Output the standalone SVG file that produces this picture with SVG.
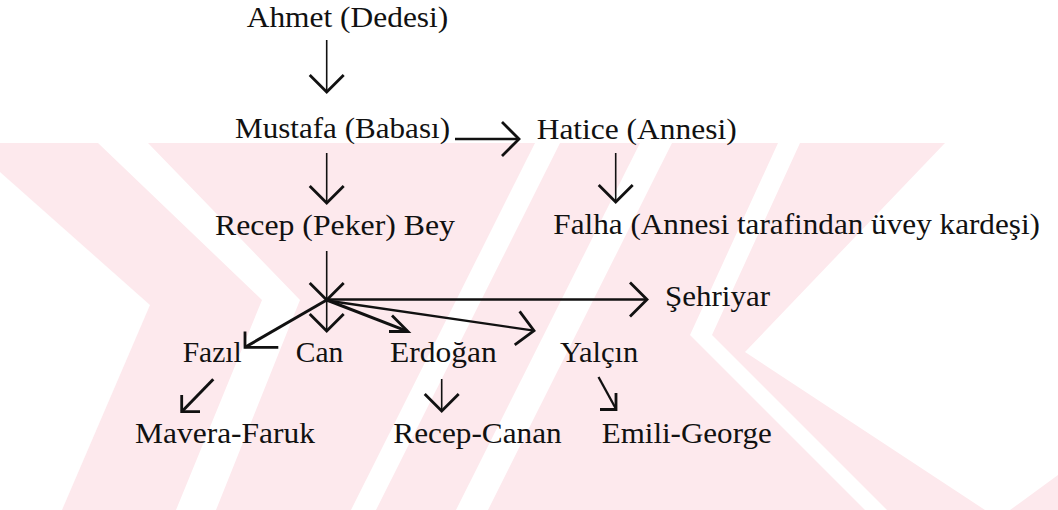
<svg xmlns="http://www.w3.org/2000/svg" width="1058" height="510" viewBox="0 0 1058 510">
<style>
.lbl{font-family:"Liberation Serif","Times New Roman",serif;font-size:29.5px;fill:#111}
.thin{stroke:#111;stroke-width:1.6;fill:none}
.mid{stroke:#111;stroke-width:2.3;fill:none}
.thick{stroke:#111;stroke-width:3;fill:none}
.head{stroke:#111;stroke-width:2.8;fill:none;stroke-linejoin:miter;stroke-linecap:butt}
.wm{fill:#fde9ed}
.wg{fill:#ffffff}
</style>
<defs>
<marker id="ah" markerUnits="userSpaceOnUse" orient="auto" overflow="visible" markerWidth="40" markerHeight="40" refX="0" refY="0">
<path d="M-17,-17 L0,0 L-17,17" fill="none" stroke="#111" stroke-width="2.8" stroke-linejoin="miter"/>
</marker>
</defs>
<rect x="0" y="0" width="1058" height="510" fill="#ffffff"/>
<g id="watermark">
<rect class="wm" x="0" y="143" width="1058" height="367"/>
<polygon class="wg" points="0,172 150,305 62,510 0,510"/>
<polygon class="wg" points="98,143 148,143 300,300 216,510 176,510 262,300"/>
<polygon class="wg" points="535,143 560,143 376,510 351,510"/>
<polygon class="wg" points="640,143 672,143 488,510 456,510"/>
<polygon class="wg" points="778,143 800,143 712,335 887,510 865,510 690,335"/>
<polygon class="wg" points="945,143 1058,143 1058,475 1010,510 985,510 745,352"/>
</g>
<g id="connectors">
<line class="thin" x1="326.7" y1="40" x2="326.7" y2="92" marker-end="url(#ah)"/>
<line class="mid" x1="455" y1="139" x2="519" y2="139" marker-end="url(#ah)"/>
<line class="thin" x1="326.7" y1="153" x2="326.7" y2="203" marker-end="url(#ah)"/>
<line class="thin" x1="615.7" y1="153" x2="615.7" y2="202" marker-end="url(#ah)"/>
<line class="thin" x1="326.7" y1="251" x2="326.7" y2="300" marker-end="url(#ah)"/>
<line class="mid" x1="326.7" y1="299.5" x2="647" y2="299.5" marker-end="url(#ah)"/>
<line class="thin" x1="326.7" y1="300" x2="326.7" y2="331" marker-end="url(#ah)"/>
<line class="thick" x1="326.7" y1="300" x2="245" y2="347.3"/>
<path class="head" d="M245,331.5 L245,347.3 L278.3,347.3"/>
<line class="thick" x1="326.7" y1="300" x2="407" y2="331.2"/>
<path class="head" d="M392,315.5 L408,331.5 L389,331.5"/>
<line class="mid" x1="326.7" y1="300.5" x2="534" y2="330.6" marker-end="url(#ah)"/>
<line class="thick" x1="213.3" y1="379.3" x2="181.7" y2="411.7"/>
<path class="head" d="M181.7,395 L181.7,411.7 L200,411.7"/>
<line class="thin" x1="441.7" y1="379" x2="441.7" y2="411" marker-end="url(#ah)"/>
<line class="mid" x1="598.5" y1="377" x2="616" y2="409"/>
<path class="head" d="M616,393 L616,409.5 L600,409.5"/>
</g>
<g id="n-ahmet"><text class="lbl" x="246.7" y="27" textLength="201.6" lengthAdjust="spacingAndGlyphs">Ahmet (Dedesi)</text></g>
<g id="n-mustafa"><text class="lbl" x="235" y="138" textLength="215" lengthAdjust="spacingAndGlyphs">Mustafa (Babası)</text></g>
<g id="n-hatice"><text class="lbl" x="536.7" y="139" textLength="200" lengthAdjust="spacingAndGlyphs">Hatice (Annesi)</text></g>
<g id="n-recep"><text class="lbl" x="215" y="235" textLength="240" lengthAdjust="spacingAndGlyphs">Recep (Peker) Bey</text></g>
<g id="n-falha"><text class="lbl" x="553.3" y="234" textLength="486.7" lengthAdjust="spacingAndGlyphs">Falha (Annesi tarafindan üvey kardeşi)</text></g>
<g id="n-sehriyar"><text class="lbl" x="665" y="306" textLength="105" lengthAdjust="spacingAndGlyphs">Şehriyar</text></g>
<g id="n-fazil"><text class="lbl" x="182.7" y="362" textLength="59" lengthAdjust="spacingAndGlyphs">Fazıl</text></g>
<g id="n-can"><text class="lbl" x="295.7" y="362" textLength="47.6" lengthAdjust="spacingAndGlyphs">Can</text></g>
<g id="n-erdogan"><text class="lbl" x="390" y="362" textLength="106.7" lengthAdjust="spacingAndGlyphs">Erdoğan</text></g>
<g id="n-yalcin"><text class="lbl" x="560" y="362" textLength="78.3" lengthAdjust="spacingAndGlyphs">Yalçın</text></g>
<g id="n-mavera"><text class="lbl" x="135" y="443" textLength="180" lengthAdjust="spacingAndGlyphs">Mavera-Faruk</text></g>
<g id="n-recepcanan"><text class="lbl" x="393.3" y="443" textLength="168.4" lengthAdjust="spacingAndGlyphs">Recep-Canan</text></g>
<g id="n-emili"><text class="lbl" x="601.7" y="443" textLength="170" lengthAdjust="spacingAndGlyphs">Emili-George</text></g>
</svg>
